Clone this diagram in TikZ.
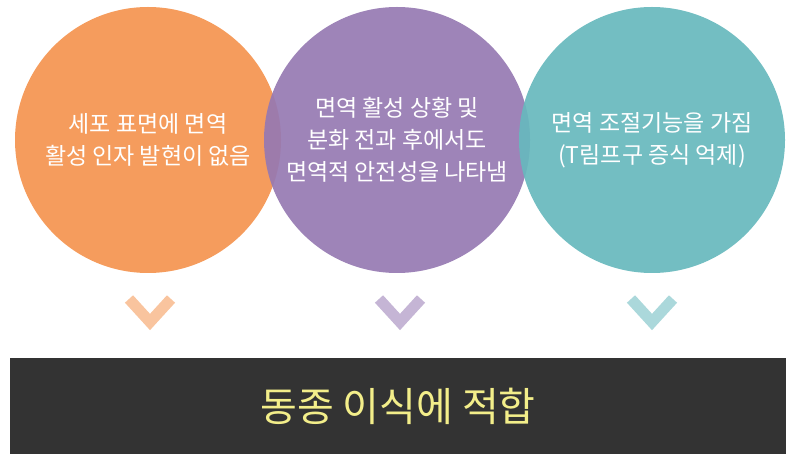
\documentclass[tikz,border=0pt]{standalone}
\usepackage{fontspec}
\setmainfont{Noto Sans CJK KR}
\definecolor{cOrange}{HTML}{F4944F}
\definecolor{cPurple}{HTML}{9679B2}
\definecolor{cTeal}{HTML}{67B8BD}
\definecolor{cBar}{HTML}{333333}
\definecolor{cText}{HTML}{F3EE8A}
\tikzset{
  bubble/.style={circle, minimum size=266pt, inner sep=0pt, opacity=0.92, text opacity=1},
  btext/.style={text=white, font=\fontsize{23pt}{32pt}\selectfont, align=center},
  chev/.style={line width=11pt, line cap=butt, line join=miter}
}
\begin{document}
\begin{tikzpicture}[x=1pt,y=-1pt]
\useasboundingbox (0,0) rectangle (800,454);
\node[bubble, fill=cOrange] (b1) at (148,140) {};
\node[bubble, fill=cPurple] (b2) at (397,140) {};
\node[bubble, fill=cTeal] (b3) at (652,140) {};
\node[btext] (t1) at (148,140) {세포 표면에 면역\\활성 인자 발현이 없음};
\node[btext] (t2) at (397,140) {면역 활성 상황 및\\분화 전과 후에서도\\면역적 안전성을 나타냄};
\node[btext] (t3) at (652,140) {면역 조절기능을 가짐\\(T림프구 증식 억제)};
% chevrons
\foreach \x/\c in {150/cOrange, 400/cPurple, 652/cTeal}{
  \draw[chev, draw=\c!55] (\x-21,299) -- (\x,322) -- (\x+21,299);
}
\node[fill=cBar, minimum width=776pt, minimum height=96pt, inner sep=0pt] (bar) at (398,406) {};
\node[text=cText, font=\fontsize{40pt}{46pt}\selectfont] (res) at (bar) {동종 이식에 적합};
\end{tikzpicture}
\end{document}
